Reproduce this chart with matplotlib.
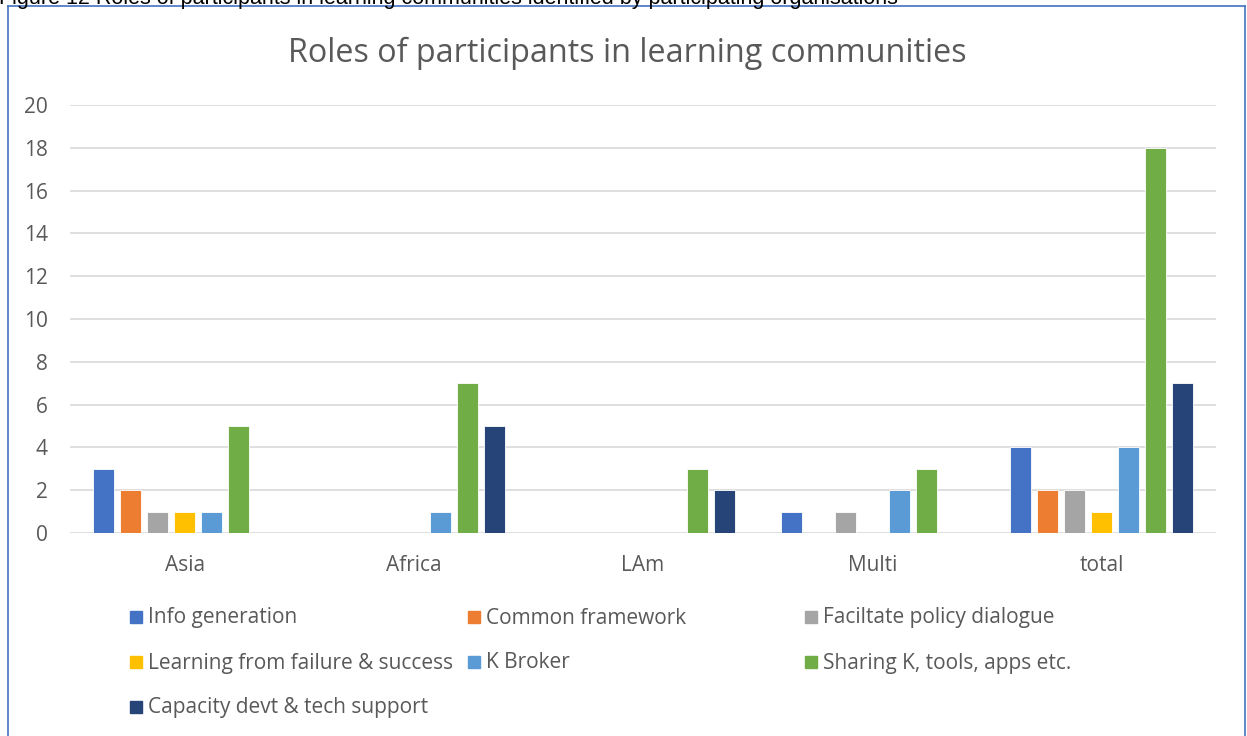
import matplotlib
matplotlib.use('Agg')
import matplotlib.pyplot as plt
from matplotlib.patches import Rectangle
from matplotlib.lines import Line2D
import numpy as np

# Dados do gráfico
regioes = ['Asia', 'Africa', 'LAm', 'Multi', 'total']
papeis = ['Info generation', 'Common framework', 'Faciltate policy dialogue',
          'Learning from failure & success', 'K Broker', 'Sharing K, tools, apps etc.',
          'Capacity devt & tech support']
info_generation = [3, 0, 0, 1, 4]
common_framework = [2, 0, 0, 0, 2]
policy_dialogue = [1, 0, 0, 1, 2]
learning_failure = [1, 0, 0, 0, 1]
k_broker = [1, 1, 0, 2, 4]
sharing_k = [5, 7, 3, 3, 18]
capacity_devt = [0, 5, 2, 0, 7]
cores = ['#4472C4', '#ED7D31', '#A5A5A5', '#FFC000', '#5B9BD5', '#70AD47', '#264478']
yticks = list(range(0, 21, 2))

series = [info_generation, common_framework, policy_dialogue, learning_failure,
          k_broker, sharing_k, capacity_devt]

W, H = 1247, 736
fig = plt.figure(figsize=(W / 100, H / 100), dpi=100)
plt.rcParams['font.family'] = ['Open Sans', 'DejaVu Sans']

ax = fig.add_axes([70 / W, 1 - 533 / H, (1216 - 70) / W, (533 - 105) / H])
x = np.arange(len(regioes))
passo = 27 / 229
largura = 21 / 229
for i, vals in enumerate(series):
    pos = x + (i - 3) * passo
    ax.bar(pos, vals, width=largura, color=cores[i], edgecolor='white', linewidth=0.6, zorder=3)

ax.set_xlim(-0.5, len(regioes) - 0.5)
ax.set_ylim(0, 20)
ax.set_yticks(yticks)
ax.set_xticks(x)
ax.set_xticklabels(regioes)
ax.grid(axis='y', color='#D9D9D9', linewidth=1.2, zorder=0)
for s in ax.spines.values():
    s.set_visible(False)
ax.tick_params(axis='both', length=0, labelsize=15, colors='#595959')
ax.tick_params(axis='x', pad=16)
ax.tick_params(axis='y', pad=16)

# Título
fig.text(627 / W, 1 - 53 / H, 'Roles of participants in learning communities',
         ha='center', va='center', fontsize=23.3, color='#595959')

# Legenda manual em 3 colunas
col_x = [130, 468, 805]
for i, nome in enumerate(papeis):
    lin, col = divmod(i, 3)
    yc = 617 + 45 * lin
    fig.add_artist(Rectangle((col_x[col] / W, 1 - (yc + 6) / H), 12 / W, 12 / H,
                             transform=fig.transFigure, color=cores[i]))
    fig.text((col_x[col] + 18) / W, 1 - (yc + 1) / H, nome, ha='left', va='center',
             fontsize=15, color='#595959')

# Moldura e legenda da figura (cortada no topo)
cor_borda = '#4472C4'
fig.add_artist(Line2D([8 / W, 8 / W], [0, 1 - 6 / H], transform=fig.transFigure, color=cor_borda, lw=1.2))
fig.add_artist(Line2D([1245 / W, 1245 / W], [0, 1 - 6 / H], transform=fig.transFigure, color=cor_borda, lw=1.2))
fig.add_artist(Line2D([8 / W, 1245 / W], [1 - 6 / H, 1 - 6 / H], transform=fig.transFigure, color=cor_borda, lw=1.2))
fig.text(-1 / W, 1 - 4 / H,
         'Figure 12 Roles of participants in learning communities identified by participating organisations',
         ha='left', va='baseline', fontsize=15.5, color='black', family=['Liberation Sans', 'DejaVu Sans'])

fig.savefig('out.png', dpi=100)
